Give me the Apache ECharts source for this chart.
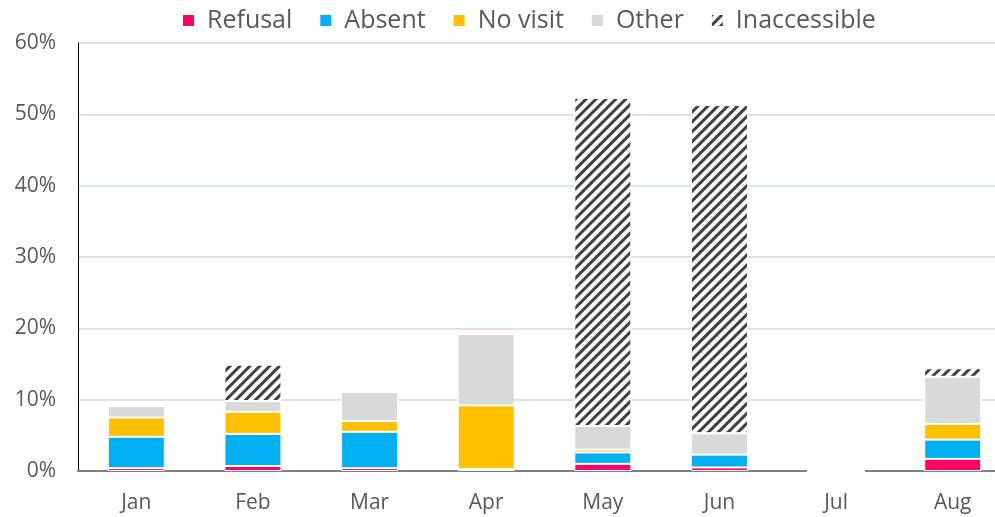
<!DOCTYPE html>
<html>
<head>
<meta charset="utf-8">
<script src="https://cdn.jsdelivr.net/npm/echarts@6/dist/echarts.min.js"></script>
<style>
  html, body { margin: 0; padding: 0; background: #fff; }
  #chart { width: 995px; height: 517px; }
</style>
</head>
<body>
<div id="chart"></div>
<script>
var months = ['Jan', 'Feb', 'Mar', 'Apr', 'May', 'Jun', 'Jul', 'Aug'];
var refusal = [0.4, 0.7, 0.4, 0.3, 1.0, 0.5, 0, 1.7];
var absent = [4.4, 4.5, 5.1, 0, 1.6, 1.8, 0, 2.7];
var noVisit = [2.7, 3.1, 1.5, 8.9, 0.4, 0, 0, 2.2];
var other = [1.6, 1.5, 4.1, 10.0, 3.3, 3.0, 0, 6.6];
var inaccessible = [0, 5.1, 0, 0, 46.0, 46.0, 0, 1.2];

var myChart = echarts.init(document.getElementById('chart'));

function bar(name, data, color, decal) {
    var s = {
        name: name,
        type: 'bar',
        stack: 'total',
        barWidth: 57,
        data: data,
        itemStyle: { color: color, borderColor: '#fff', borderWidth: 1 }
    };
    if (decal) s.itemStyle.decal = decal;
    return s;
}

var hatch = {
    symbol: 'rect',
    symbolSize: 1,
    color: '#404040',
    dashArrayX: [1, 0],
    dashArrayY: [3, 4],
    rotation: -Math.PI / 4
};

option = {
    animation: false,
    textStyle: { fontFamily: 'Open Sans' },
    legend: {
        top: 3,
        left: 176,
        itemWidth: 13,
        itemHeight: 13,
        itemGap: 26,
        icon: 'rect',
        textStyle: { fontSize: 25, color: '#595959', fontFamily: 'Open Sans', padding: [0, 0, 0, 7] },
        data: ['Refusal', 'Absent', 'No visit', 'Other', 'Inaccessible']
    },
    grid: { left: 78, width: 933, top: 43, bottom: 46, outerBoundsMode: 'none', containLabel: false },
    xAxis: {
        type: 'category',
        data: months,
        axisLine: { lineStyle: { color: '#7f7f7f', width: 2 } },
        axisTick: { show: false },
        axisLabel: { fontSize: 21, color: '#595959', margin: 22 }
    },
    yAxis: {
        type: 'value',
        min: 0,
        max: 60,
        interval: 10,
        axisLine: { show: true, lineStyle: { color: '#000', width: 1 } },
        axisTick: { show: false },
        axisLabel: { fontSize: 21, color: '#595959', margin: 22, formatter: '{value}%' },
        splitLine: { lineStyle: { color: '#dae3f3', width: 2 } }
    },
    series: [
        bar('Refusal', refusal, '#ff0066'),
        bar('Absent', absent, '#00b0f0'),
        bar('No visit', noVisit, '#ffc000'),
        bar('Other', other, '#d9d9d9'),
        bar('Inaccessible', inaccessible, '#ffffff', hatch)
    ]
};
myChart.setOption(option);
</script>
</body>
</html>
